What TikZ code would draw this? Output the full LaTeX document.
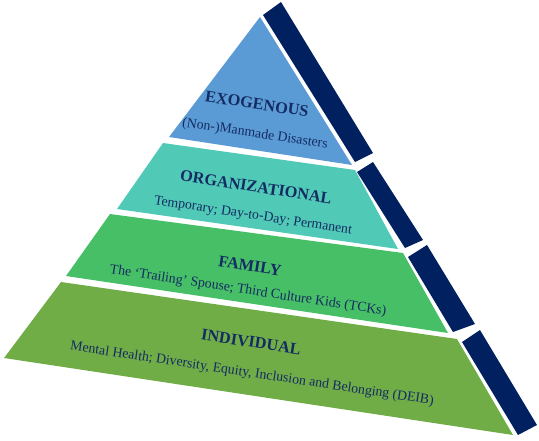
\documentclass[tikz,border=0pt]{standalone}
\usepackage{fontspec}
\setmainfont{Liberation Serif}
\definecolor{lvblue}{HTML}{5B9BD5}
\definecolor{lvteal}{HTML}{50CAB6}
\definecolor{lvgreen}{HTML}{47BF66}
\definecolor{lvolive}{HTML}{70AD47}
\definecolor{lvnavy}{HTML}{002060}
\definecolor{lvtext}{HTML}{142B63}
\begin{document}
\begin{tikzpicture}[x=1pt,y=-1pt,
  title/.style={text=lvtext,font=\fontsize{16.3}{17}\selectfont\bfseries,rotate=-8.6,inner sep=0pt},
  sub/.style={text=lvtext,font=\fontsize{13.8}{15}\selectfont,rotate=-8.6,inner sep=0pt},
  bar/.style={fill=lvnavy}]
\useasboundingbox (0,0) rectangle (539,440);
% layers
\fill[lvblue] (260,17) -- (352,165) -- (169,137) -- cycle;
\fill[lvteal] (163,143) -- (355,170) -- (398,249) -- (117,209) -- cycle;
\fill[lvgreen] (110,214) -- (403,253) -- (448,333) -- (66,276) -- cycle;
\fill[lvolive] (61,282) -- (457,339) -- (513,435) -- (4,358) -- cycle;
% side bars
\fill[bar] (263,15) -- (281,2) -- (373,153) -- (355,162) -- cycle;
\fill[bar] (357,172) -- (373,162) -- (423,240) -- (405,248) -- cycle;
\fill[bar] (408,257) -- (427,245) -- (475,324) -- (453,332) -- cycle;
\fill[bar] (462,342) -- (480,330) -- (537,425) -- (518,435) -- cycle;
% texts
\node[title] (t1) at (257,104) {EXOGENOUS};
\node[sub] (s1) at (255,134) {(Non-)Manmade Disasters};
\node[title] (t2) at (256,187) {ORGANIZATIONAL};
\node[sub] (s2) at (253,216) {Temporary; Day-to-Day; Permanent};
\node[title] (t3) at (250,266) {FAMILY};
\node[sub] (s3) at (248,291) {The ‘Trailing’ Spouse; Third Culture Kids (TCKs)};
\node[title] (t4) at (251,342) {INDIVIDUAL};
\node[sub] (s4) at (252,374) {Mental Health; Diversity, Equity, Inclusion and Belonging (DEIB)};
\end{tikzpicture}
\end{document}
